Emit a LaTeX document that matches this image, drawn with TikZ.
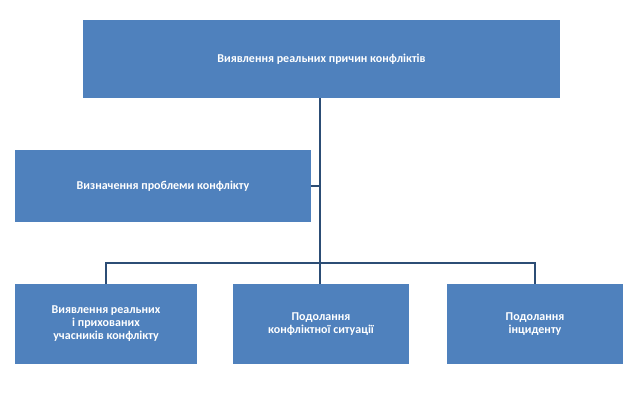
\documentclass[tikz,border=0pt]{standalone}
\usepackage{fontspec}
\setmainfont{Carlito}
\begin{document}
\begin{tikzpicture}[x=1pt,y=-1pt,
  box/.style={draw=none,fill={rgb,255:red,79;green,129;blue,189},text=white,font=\bfseries\fontsize{12}{13}\selectfont,align=center,inner sep=0pt},
  conn/.style={draw={rgb,255:red,44;green,77;blue,117},line width=2.2pt}]
\useasboundingbox (0,0) rectangle (629,408);
\node[box,minimum width=477pt,minimum height=78pt] (top) at (321.5,59) {Виявлення реальних причин конфліктів};
\node[box,minimum width=296pt,minimum height=72pt] (prob) at (163,186) {Визначення проблеми конфлікту};
\node[box,minimum width=182pt,minimum height=80pt] (b1) at (106,324) {Виявлення реальних\\і прихованих\\учасників конфлікту};
\node[box,minimum width=176pt,minimum height=80pt] (b2) at (321,324) {Подолання\\конфліктної ситуації};
\node[box,minimum width=176pt,minimum height=80pt] (b3) at (535,324) {Подолання\\інциденту};
\coordinate (j) at (320,263);
\draw[conn] (top.south -| j) -- (j);
\draw[conn] (prob.east) -- (prob.east -| j);
\draw[conn] (b1.north) -- (b1.north |- j) -- (b3.north |- j) -- (b3.north);
\draw[conn] (j) -- (j |- b2.north);
\end{tikzpicture}
\end{document}
